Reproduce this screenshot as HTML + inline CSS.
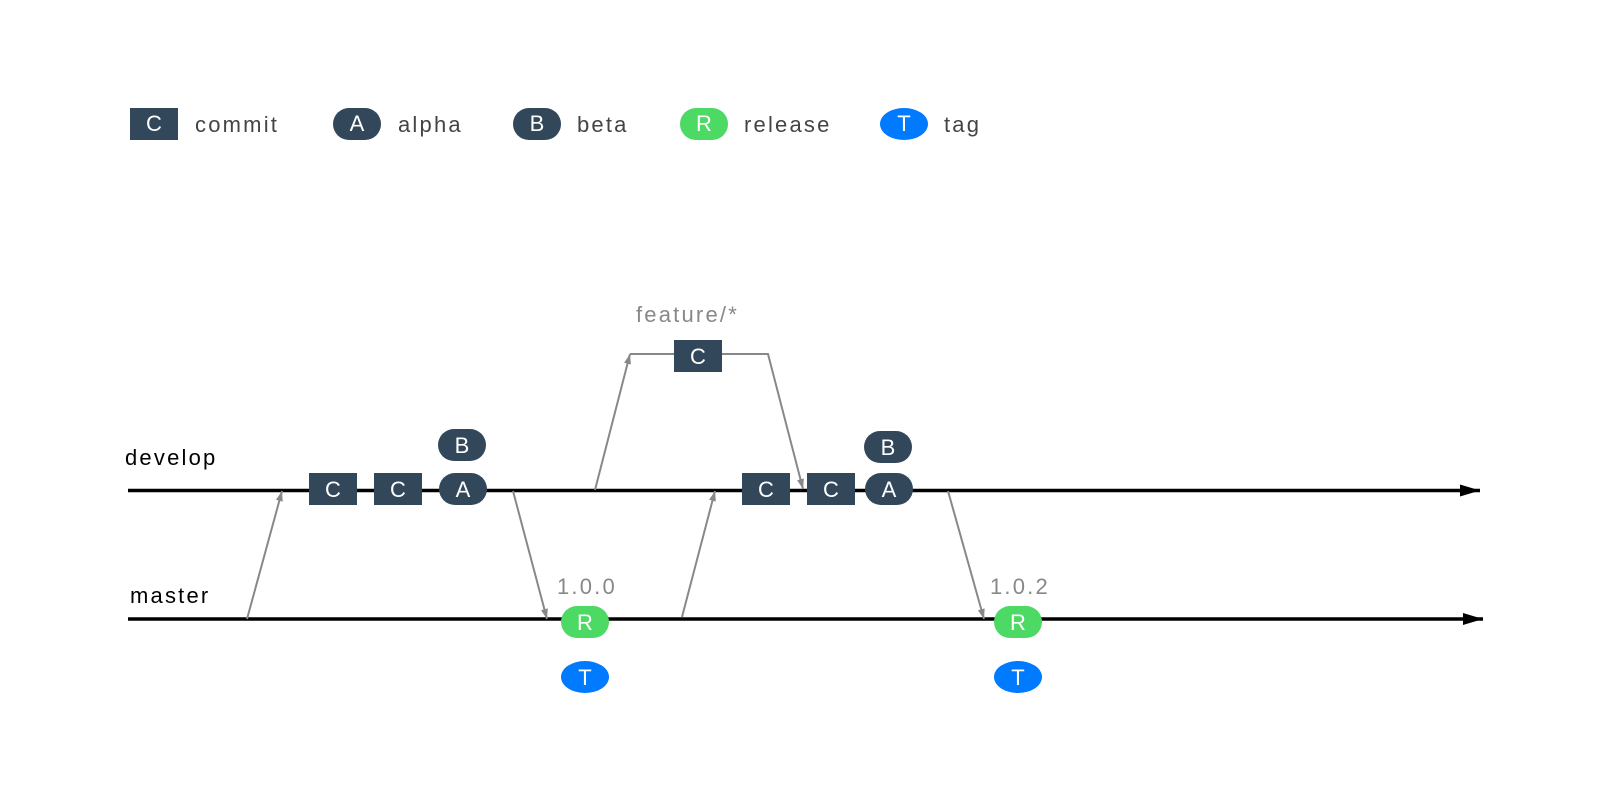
<!DOCTYPE html>
<html><head><meta charset="utf-8"><style>
html,body{margin:0;padding:0;background:#fff;width:1600px;height:800px;overflow:hidden}
text{font-family:"Liberation Sans","DejaVu Sans",sans-serif}
.l{letter-spacing:2.2px}
</style></head><body>
<svg width="1600" height="800" viewBox="0 0 1600 800" xmlns="http://www.w3.org/2000/svg">
<defs>
<marker id="g" viewBox="0 0 10 10" refX="10" refY="5" markerWidth="11" markerHeight="10" markerUnits="userSpaceOnUse" orient="auto"><path d="M0,1.5 L10,5 L0,8.5 Z" fill="#888"/></marker>
<marker id="k" viewBox="0 0 10 10" refX="10" refY="5" markerWidth="20" markerHeight="12" markerUnits="userSpaceOnUse" orient="auto" preserveAspectRatio="none"><path d="M0,0 L10,5 L0,10 Z" fill="#000"/></marker>
</defs>
<!-- legend -->
<g font-size="22" fill="#444">
<rect x="130" y="108" width="48" height="32" fill="#33475b"/><text x="154" y="131" fill="#fff" text-anchor="middle">C</text><text class="l" x="195" y="132">commit</text>
<rect x="333" y="108" width="48" height="32" rx="16" fill="#33475b"/><text x="357" y="131" fill="#fff" text-anchor="middle">A</text><text class="l" x="398" y="132">alpha</text>
<rect x="513" y="108" width="48" height="32" rx="16" fill="#33475b"/><text x="537" y="131" fill="#fff" text-anchor="middle">B</text><text class="l" x="577" y="132">beta</text>
<rect x="680" y="108" width="48" height="32" rx="16" fill="#4cd964"/><text x="704" y="131" fill="#fff" text-anchor="middle">R</text><text class="l" x="744" y="132">release</text>
<ellipse cx="904" cy="124" rx="24" ry="16" fill="#007aff"/><text x="904" y="131" fill="#fff" text-anchor="middle">T</text><text class="l" x="944" y="132">tag</text>
</g>
<!-- labels -->
<text class="l" x="125" y="465" font-size="22" fill="#000">develop</text>
<text class="l" x="130" y="603" font-size="22" fill="#000">master</text>
<!-- main lines -->
<line x1="128" y1="490.5" x2="1480" y2="490.5" stroke="#000" stroke-width="3.5" marker-end="url(#k)"/>
<line x1="128" y1="619" x2="1483" y2="619" stroke="#000" stroke-width="3.5" marker-end="url(#k)"/>
<!-- connectors -->
<g stroke="#888" stroke-width="2" fill="none">
<line x1="247" y1="619" x2="282" y2="491" marker-end="url(#g)"/>
<line x1="513" y1="491" x2="547" y2="619" marker-end="url(#g)"/>
<line x1="595" y1="490" x2="630" y2="354" marker-end="url(#g)"/>
<polyline points="630,354 768,354 803,489" marker-end="url(#g)"/>
<line x1="682" y1="617" x2="715" y2="491" marker-end="url(#g)"/>
<line x1="948" y1="491" x2="984" y2="619" marker-end="url(#g)"/>
</g>
<text class="l" x="636" y="322" font-size="22" fill="#888">feature/*</text>
<text class="l" x="557" y="594" font-size="22" fill="#888">1.0.0</text>
<text class="l" x="990" y="594" font-size="22" fill="#888">1.0.2</text>
<g font-size="22" fill="#fff" text-anchor="middle">
<rect x="674" y="340" width="48" height="32" fill="#33475b"/><text x="698" y="364">C</text>
<rect x="309" y="473" width="48" height="32" fill="#33475b"/><text x="333" y="497">C</text>
<rect x="374" y="473" width="48" height="32" fill="#33475b"/><text x="398" y="497">C</text>
<rect x="439" y="473" width="48" height="32" rx="16" fill="#33475b"/><text x="463" y="497">A</text>
<rect x="438" y="429" width="48" height="32" rx="16" fill="#33475b"/><text x="462" y="453">B</text>
<rect x="742" y="473" width="48" height="32" fill="#33475b"/><text x="766" y="497">C</text>
<rect x="807" y="473" width="48" height="32" fill="#33475b"/><text x="831" y="497">C</text>
<rect x="865" y="473" width="48" height="32" rx="16" fill="#33475b"/><text x="889" y="497">A</text>
<rect x="864" y="431" width="48" height="32" rx="16" fill="#33475b"/><text x="888" y="455">B</text>
<rect x="561" y="606" width="48" height="32" rx="16" fill="#4cd964"/><text x="585" y="630">R</text>
<ellipse cx="585" cy="677" rx="24" ry="16" fill="#007aff"/><text x="585" y="685">T</text>
<rect x="994" y="606" width="48" height="32" rx="16" fill="#4cd964"/><text x="1018" y="630">R</text>
<ellipse cx="1018" cy="677" rx="24" ry="16" fill="#007aff"/><text x="1018" y="685">T</text>
</g>
</svg>
</body></html>
